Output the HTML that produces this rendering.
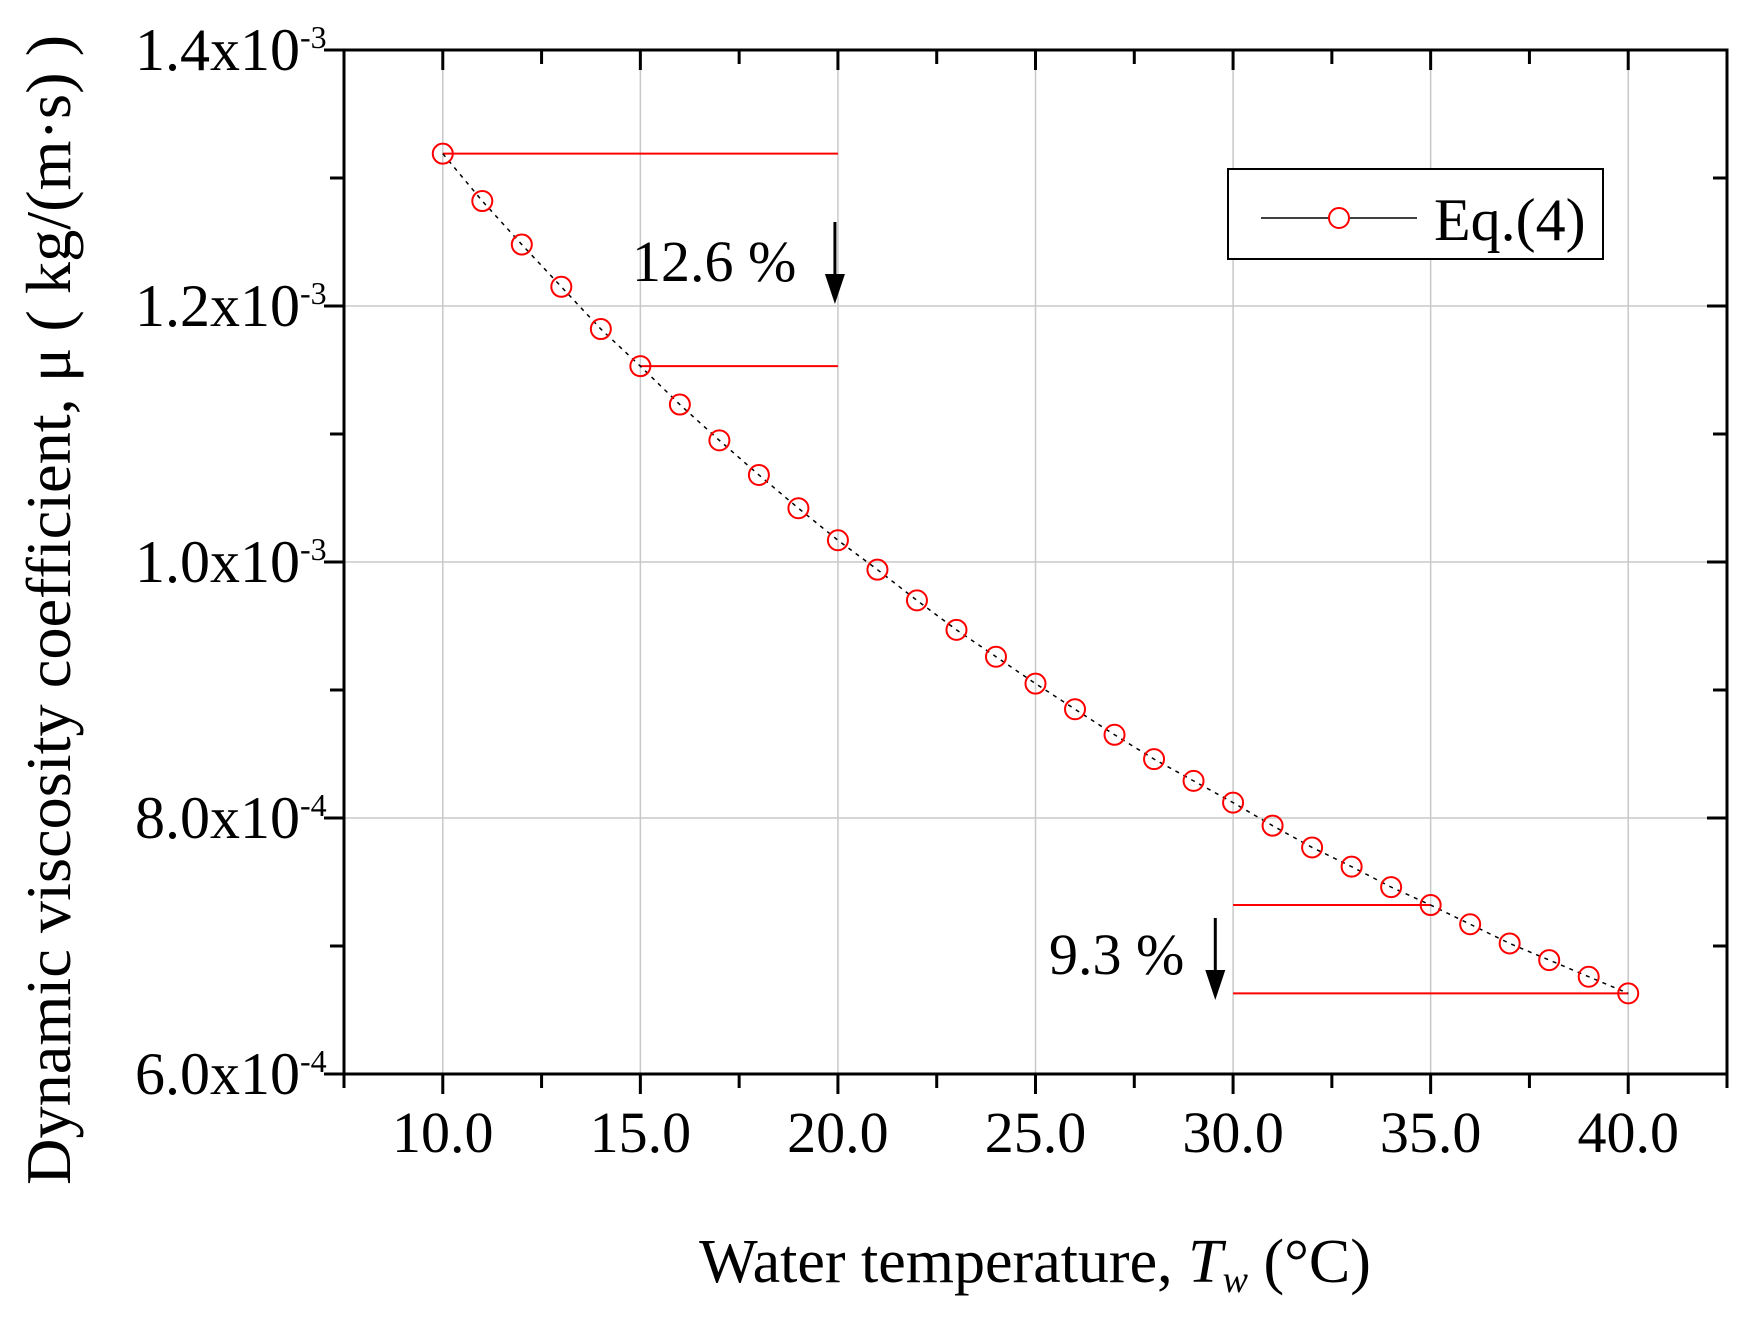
<!DOCTYPE html>
<html><head><meta charset="utf-8"><style>
html,body{margin:0;padding:0;background:#fff;}
svg{display:block;font-family:"Liberation Serif",serif;}
</style></head><body>
<svg id="chart" width="1739" height="1318" viewBox="0 0 1739 1318" xmlns="http://www.w3.org/2000/svg">
<g id="grid"></g>
<g id="ann"></g>
<g id="series"></g>
<g id="axes"></g>
<text transform="translate(70,610) rotate(-90)" text-anchor="middle" font-size="64" textLength="1150" lengthAdjust="spacingAndGlyphs">Dynamic viscosity coefficient, μ ( kg/(m·s) )</text>
<text x="1035" y="1282" text-anchor="middle" font-size="62">Water temperature, <tspan font-style="italic">T</tspan><tspan font-style="italic" font-size="38" dy="10">w</tspan><tspan dy="-10"> (°C)</tspan></text>
<g>
<rect x="1228" y="169" width="375" height="90" fill="#fff" stroke="#000" stroke-width="2"/>
<line x1="1261" y1="218" x2="1417" y2="218" stroke="#000" stroke-width="1.5"/>
<circle cx="1339" cy="218" r="10" fill="#fff" stroke="#f00" stroke-width="2"/>
<text x="1434" y="240" font-size="60">Eq.(4)</text>
</g>
</svg>
<script>
const temps=[10,11,12,13,14,15,16,17,18,19,20,21,22,23,24,25,26,27,28,29,30,31,32,33,34,35,36,37,38,39,40];
const mu=[1.319,1.282,1.248,1.215,1.182,1.153,1.123,1.095,1.068,1.042,1.017,0.994,0.970,0.947,0.926,0.905,0.885,0.865,0.846,0.829,0.812,0.794,0.777,0.762,0.746,0.732,0.717,0.702,0.689,0.676,0.663];
const xTicks=[10,15,20,25,30,35,40];
const xTickLabels=["10.0","15.0","20.0","25.0","30.0","35.0","40.0"];
const yTicks=[0.6,0.8,1.0,1.2,1.4];
const yTickMant=["6.0x10","8.0x10","1.0x10","1.2x10","1.4x10"];
const yTickExp=["-4","-4","-3","-3","-3"];
const L=344,R=1727,T=50,B=1074,XMIN=7.5,XMAX=42.5,YMIN=0.6,YMAX=1.4;
const sx=v=>L+(v-XMIN)/(XMAX-XMIN)*(R-L);
const sy=v=>B-(v-YMIN)/(YMAX-YMIN)*(B-T);
const NS="http://www.w3.org/2000/svg";
function mk(tag,attrs,parent,txt){const e=document.createElementNS(NS,tag);for(const k in attrs)e.setAttribute(k,attrs[k]);if(txt!==undefined)e.textContent=txt;document.getElementById(parent).appendChild(e);return e;}
xTicks.forEach(v=>{const e=mk('line',{x1:sx(v),x2:sx(v),y1:T,y2:B,stroke:'#c8c8c8','stroke-width':1.5},'grid');

});
yTicks.forEach(v=>{const e=mk('line',{x1:L,x2:R,y1:sy(v),y2:sy(v),stroke:'#c8c8c8','stroke-width':1.5},'grid');

});
function hline(y,x1,x2){const e=mk('line',{x1:sx(x1),x2:sx(x2),y1:sy(y),y2:sy(y),stroke:'#f00','stroke-width':2},'ann');

}
hline(mu[0],10,20);hline(mu[5],15,20);hline(mu[25],30,35);hline(mu[30],30,40);
function arrow(x,y1,y2){const g=mk('g',{},'ann');


const e=document.createElementNS(NS,'line');e.setAttribute('x1',x);e.setAttribute('x2',x);e.setAttribute('y1',y1);e.setAttribute('y2',y2-20);e.setAttribute('stroke','#000');e.setAttribute('stroke-width',3);g.appendChild(e);
const p=document.createElementNS(NS,'polygon');p.setAttribute('points',`${x-10},${y2-30} ${x+10},${y2-30} ${x},${y2}`);p.setAttribute('fill','#000');g.appendChild(p);}
arrow(sx(20)-3,222,304);arrow(sx(29.55),918,1000);
let t1=mk('text',{x:632,y:281,'font-size':58},'ann','12.6 %');


let t2=mk('text',{x:1049,y:974,'font-size':58},'ann','9.3 %');


const pts=temps.map((t,i)=>sx(t)+','+sy(mu[i])).join(' ');
const pl=mk('polyline',{points:pts,fill:'none',stroke:'#000','stroke-width':1.5,'stroke-dasharray':'4,5'},'series');


temps.forEach((t,i)=>{const c=mk('circle',{cx:sx(t),cy:sy(mu[i]),r:10,fill:'none',stroke:'#f00','stroke-width':2},'series');

});
const fr=mk('rect',{x:L,y:T,width:R-L,height:B-T,fill:'none',stroke:'#000','stroke-width':3},'axes');


for(let v=7.5;v<=42.5;v+=2.5){const maj=xTicks.includes(v);const len=maj?20:14;
mk('line',{x1:sx(v),x2:sx(v),y1:B,y2:B+len,stroke:'#000','stroke-width':3},'axes');
mk('line',{x1:sx(v),x2:sx(v),y1:T,y2:T+len,stroke:'#000','stroke-width':3},'axes');}
for(let v=0.6;v<=1.401;v+=0.1){const maj=Math.abs(Math.round(v*5)-v*5)<1e-6;const len=maj?20:14;
mk('line',{x1:L-len,x2:L,y1:sy(v),y2:sy(v),stroke:'#000','stroke-width':3},'axes');
mk('line',{x1:R-len,x2:R,y1:sy(v),y2:sy(v),stroke:'#000','stroke-width':3},'axes');}
xTicks.forEach((v,i)=>{const e=mk('text',{x:sx(v),y:1152,'text-anchor':'middle','font-size':58},'axes',xTickLabels[i]);

});
yTicks.forEach((v,i)=>{const e=mk('text',{x:300,y:sy(v)+20,'text-anchor':'end','font-size':60},'axes',yTickMant[i]);


const s=mk('text',{x:300,y:sy(v)-2,'font-size':32},'axes',yTickExp[i]);

});
</script>
</body></html>
